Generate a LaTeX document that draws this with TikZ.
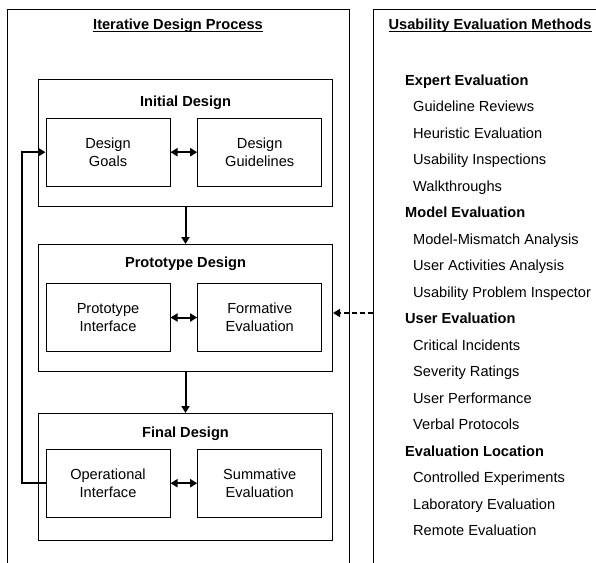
\documentclass[tikz,border=0pt]{standalone}
\usepackage{fontspec}
\setmainfont{Liberation Sans}
\usetikzlibrary{arrows.meta}
\tikzset{
  panel/.style={draw,line width=1pt,anchor=north west,inner sep=0pt},
  stagebox/.style={draw,line width=1pt,minimum width=294pt,minimum height=127pt,inner sep=0pt},
  stepbox/.style={draw,line width=1pt,minimum width=124pt,minimum height=68pt,align=center,inner sep=0pt},
  stagetitle/.style={font=\bfseries,inner sep=0pt},
  paneltitle/.style={font=\bfseries,inner sep=0pt},
  heading/.style={font=\bfseries,anchor=base west,inner sep=0pt},
  item/.style={anchor=base west,inner sep=0pt},
  flow/.style={->,line width=2pt},
  twoway/.style={<->,line width=2pt},
}
\begin{document}
\fontsize{14.6}{18}\selectfont
\begin{tikzpicture}[x=1pt,y=-1pt,>={Triangle[length=7pt,width=8pt]}]
\useasboundingbox (0,0) rectangle (596,562);
\clip (0,0) rectangle (596,562);
% the two panels
\node[panel,minimum width=342pt,minimum height=600pt] (process) at (7,9) {};
\node[panel,minimum width=300pt,minimum height=600pt] (methods) at (373,9) {};
\node[paneltitle,anchor=base] (ptitle) at (178,29.5) {Iterative Design Process};
\node[paneltitle,anchor=base west] (mtitle) at (388.5,29.5) {Usability Evaluation Methods};
\draw[line width=1pt] ([yshift=-2.3pt]ptitle.base west) -- ([yshift=-2.3pt]ptitle.base east);
\draw[line width=1pt] ([yshift=-2.3pt]mtitle.base west) -- ([yshift=-2.3pt]mtitle.base east);
% stages
\node[stagebox] (initial) at (185.5,142.5) {};
\node[stagebox] (proto) at (185.5,308) {};
\node[stagebox] (final) at (185.5,477) {};
\node[stagetitle] (initialt) at (185.5,102.5) {Initial Design};
\node[stagetitle] (protot) at (185.5,264) {Prototype Design};
\node[stagetitle] (finalt) at (185.5,433.5) {Final Design};
\node[stepbox] (goals) at (108,152.2) {Design\\Goals};
\node[stepbox] (guide) at (259.7,152.2) {Design\\Guidelines};
\node[stepbox] (pint) at (108,317.5) {Prototype\\Interface};
\node[stepbox] (formative) at (259.7,317.5) {Formative\\Evaluation};
\node[stepbox] (opint) at (108,483.2) {Operational\\Interface};
\node[stepbox] (summative) at (259.7,483.2) {Summative\\Evaluation};
\draw[twoway] (goals) -- (guide);
\draw[twoway] (pint) -- (formative);
\draw[twoway] (opint) -- (summative);
\draw[flow] (initial) -- (proto);
\draw[flow] (proto) -- (final);
\draw[flow] (opint.west) -- ++(-23.7,0) |- (goals.west);
% methods list
\node[heading] (expert) at (405,85) {Expert Evaluation};
\node[item] (m1) at (413,111.5) {Guideline Reviews};
\node[item] (m2) at (413,138) {Heuristic Evaluation};
\node[item] (m3) at (413,164.5) {Usability Inspections};
\node[item] (m4) at (413,191) {Walkthroughs};
\node[heading] (model) at (405,217.5) {Model Evaluation};
\node[item] (m5) at (413,244) {Model-Mismatch Analysis};
\node[item] (m6) at (413,270.5) {User Activities Analysis};
\node[item] (m7) at (413,297) {Usability Problem Inspector};
\node[heading] (user) at (405,323.5) {User Evaluation};
\node[item] (m8) at (413,350) {Critical Incidents};
\node[item] (m9) at (413,376.5) {Severity Ratings};
\node[item] (m10) at (413,403) {User Performance};
\node[item] (m11) at (413,429.5) {Verbal Protocols};
\node[heading] (location) at (405,456) {Evaluation Location};
\node[item] (m12) at (413,482.5) {Controlled Experiments};
\node[item] (m13) at (413,509) {Laboratory Evaluation};
\node[item] (m14) at (413,535.5) {Remote Evaluation};
\coordinate (feed) at (373,313);
\draw[flow,line width=1.8pt,dash pattern=on 5pt off 3pt] (feed) -- (feed -| proto.east);
\end{tikzpicture}
\end{document}
